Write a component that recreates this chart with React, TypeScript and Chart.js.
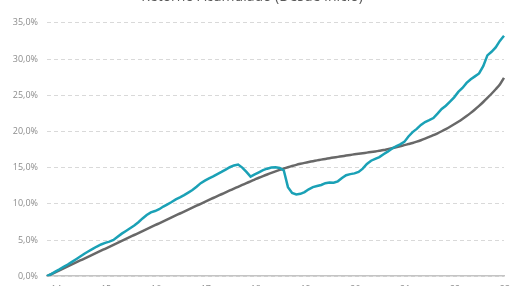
import React, { useEffect, useRef } from "react";
import { Chart, registerables } from "chart.js";

Chart.register(...registerables);

const TITLE = "Retorno Acumulado (Desde Inicio)";
const MONTHS = ["ene", "feb", "mar", "abr", "may", "jun", "jul", "ago", "sep", "oct", "nov", "dic"];
const START_YEAR = 2014;
const N_POINTS = 111;

const categories: string[] = Array.from({ length: N_POINTS }, (_, i) => {
  const m = i % 12;
  const y = START_YEAR + Math.floor(i / 12);
  return `${MONTHS[m]}-${String(y).slice(2)}`;
});

const fundSeries = [
  0, 0.3, 0.62, 0.95, 1.3, 1.62, 1.98, 2.35, 2.72, 3.1,
  3.45, 3.78, 4.1, 4.38, 4.6, 4.78, 5.0, 5.45, 5.88, 6.25,
  6.62, 7.0, 7.45, 7.98, 8.45, 8.82, 9.0, 9.25, 9.62, 9.92,
  10.25, 10.6, 10.88, 11.2, 11.55, 11.9, 12.35, 12.85, 13.2, 13.5,
  13.78, 14.1, 14.4, 14.72, 15.05, 15.3, 15.42, 15.0, 14.4, 13.75,
  14.05, 14.35, 14.65, 14.85, 15.02, 15.05, 14.95, 14.6, 12.3, 11.5,
  11.3, 11.38, 11.62, 12.0, 12.3, 12.45, 12.6, 12.85, 12.95, 12.9,
  13.1, 13.55, 13.95, 14.1, 14.2, 14.4, 14.85, 15.5, 15.95, 16.2,
  16.45, 16.85, 17.2, 17.6, 17.95, 18.2, 18.55, 19.3, 19.9, 20.35,
  20.9, 21.3, 21.55, 21.85, 22.45, 23.1, 23.55, 24.1, 24.7, 25.45,
  26.0, 26.7, 27.2, 27.6, 28.0, 29.0, 30.5, 31.0, 31.6, 32.5,
  33.2,
];

const benchmarkSeries = [
  0, 0.27, 0.54, 0.82, 1.09, 1.36, 1.63, 1.9, 2.17, 2.44,
  2.71, 2.98, 3.25, 3.52, 3.79, 4.06, 4.33, 4.6, 4.88, 5.15,
  5.42, 5.69, 5.96, 6.23, 6.5, 6.77, 7.04, 7.31, 7.58, 7.85,
  8.12, 8.39, 8.66, 8.93, 9.2, 9.47, 9.74, 10.0, 10.27, 10.54,
  10.8, 11.06, 11.32, 11.58, 11.84, 12.1, 12.35, 12.6, 12.85, 13.1,
  13.35, 13.6, 13.83, 14.05, 14.27, 14.48, 14.68, 14.87, 15.05, 15.22,
  15.38, 15.52, 15.65, 15.77, 15.89, 16.0, 16.1, 16.2, 16.3, 16.39,
  16.48, 16.57, 16.66, 16.75, 16.83, 16.91, 16.99, 17.07, 17.15, 17.23,
  17.32, 17.42, 17.55, 17.68, 17.82, 17.96, 18.1, 18.25, 18.4, 18.58,
  18.78, 19.0, 19.24, 19.48, 19.74, 20.02, 20.32, 20.64, 20.98, 21.34,
  21.72, 22.12, 22.56, 23.03, 23.53, 24.06, 24.62, 25.2, 25.82, 26.48,
  27.4,
];

const yTicks = [0, 5, 10, 15, 20, 25, 30, 35];

export default function App() {
  const ref = useRef<HTMLCanvasElement | null>(null);

  useEffect(() => {
    if (!ref.current) return;
    const chart = new Chart(ref.current, {
      type: "line",
      data: {
        labels: categories,
        datasets: [
          {
            label: "Fondo",
            data: fundSeries,
            borderColor: "#1aa1b6",
            borderWidth: 2.5,
            pointRadius: 0,
            tension: 0,
            fill: false,
          },
          {
            label: "Benchmark",
            data: benchmarkSeries,
            borderColor: "#686868",
            borderWidth: 2.5,
            pointRadius: 0,
            tension: 0.3,
            fill: false,
          },
        ],
      },
      options: {
        animation: false,
        responsive: false,
        maintainAspectRatio: false,
        layout: { padding: { left: 0, right: 7, top: 0, bottom: 7 } },
        plugins: {
          legend: { display: false },
          tooltip: { enabled: false },
          title: {
            display: true,
            text: TITLE,
            color: "#595959",
            font: { family: "'Open Sans', sans-serif", size: 14, weight: "normal" },
            padding: { top: 9, bottom: 17 },
          },
        },
        scales: {
          x: {
            afterFit: (s: any) => {
              s.paddingLeft = 0;
              s.paddingRight = 0;
            },
            grid: { display: false, drawTicks: false },
            border: { display: true, color: "#c4c4c4", width: 1.5 },
            ticks: {
              autoSkip: false,
              maxRotation: 0,
              padding: 8,
              color: "#8c8c8c",
              font: { family: "'Open Sans', sans-serif", size: 9 },
              callback: (_v: any, i: number) => (i % 12 === 0 ? categories[i] : null),
            },
          },
          y: {
            min: yTicks[0],
            max: yTicks[yTicks.length - 1],
            afterFit: (s: any) => {
              s.width = 47;
            },
            afterBuildTicks: (s: any) => {
              s.ticks = yTicks.map((v) => ({ value: v }));
            },
            grid: { color: "#d9d9d9", lineWidth: 1, drawTicks: false },
            border: { display: false, dash: [4, 3] },
            ticks: {
              padding: 9,
              color: "#8c8c8c",
              font: { family: "'Open Sans', sans-serif", size: 9 },
              callback: (v: any) => Number(v).toFixed(1).replace(".", ",") + "%",
            },
          },
        },
      },
    });
    return () => chart.destroy();
  }, []);

  return (
    <div style={{ position: "fixed", left: 0, top: -20, width: 511, height: 330 }}>
      <canvas ref={ref} width={511} height={330} style={{ display: "block" }} />
    </div>
  );
}
